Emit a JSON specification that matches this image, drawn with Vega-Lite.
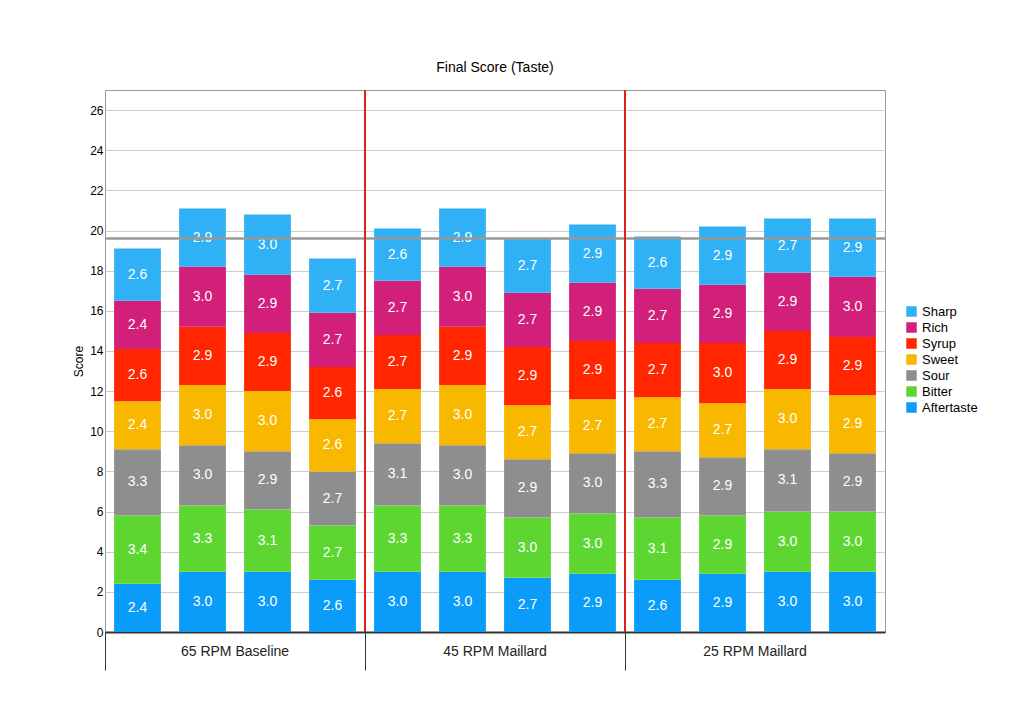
{
  "$schema": "https://vega.github.io/schema/vega-lite/v6.json",
  "autosize": "none",
  "width": 780,
  "height": 542,
  "padding": {"left": 105, "top": 90, "right": 139, "bottom": 91},
  "background": "white",
  "title": {"text": "Final Score (Taste)", "fontWeight": "normal", "fontSize": 14, "font": "Liberation Sans", "offset": 14},
  "config": {"font": "Liberation Sans", "view": {"stroke": "#999"}},
  "datasets": {
    "bars": [
      {"group": "65 RPM Baseline", "bar": 1, "Aftertaste": 2.4, "Bitter": 3.4, "Sour": 3.3, "Sweet": 2.4, "Syrup": 2.6, "Rich": 2.4, "Sharp": 2.6},
      {"group": "65 RPM Baseline", "bar": 2, "Aftertaste": 3.0, "Bitter": 3.3, "Sour": 3.0, "Sweet": 3.0, "Syrup": 2.9, "Rich": 3.0, "Sharp": 2.9},
      {"group": "65 RPM Baseline", "bar": 3, "Aftertaste": 3.0, "Bitter": 3.1, "Sour": 2.9, "Sweet": 3.0, "Syrup": 2.9, "Rich": 2.9, "Sharp": 3.0},
      {"group": "65 RPM Baseline", "bar": 4, "Aftertaste": 2.6, "Bitter": 2.7, "Sour": 2.7, "Sweet": 2.6, "Syrup": 2.6, "Rich": 2.7, "Sharp": 2.7},
      {"group": "45 RPM Maillard", "bar": 1, "Aftertaste": 3.0, "Bitter": 3.3, "Sour": 3.1, "Sweet": 2.7, "Syrup": 2.7, "Rich": 2.7, "Sharp": 2.6},
      {"group": "45 RPM Maillard", "bar": 2, "Aftertaste": 3.0, "Bitter": 3.3, "Sour": 3.0, "Sweet": 3.0, "Syrup": 2.9, "Rich": 3.0, "Sharp": 2.9},
      {"group": "45 RPM Maillard", "bar": 3, "Aftertaste": 2.7, "Bitter": 3.0, "Sour": 2.9, "Sweet": 2.7, "Syrup": 2.9, "Rich": 2.7, "Sharp": 2.7},
      {"group": "45 RPM Maillard", "bar": 4, "Aftertaste": 2.9, "Bitter": 3.0, "Sour": 3.0, "Sweet": 2.7, "Syrup": 2.9, "Rich": 2.9, "Sharp": 2.9},
      {"group": "25 RPM Maillard", "bar": 1, "Aftertaste": 2.6, "Bitter": 3.1, "Sour": 3.3, "Sweet": 2.7, "Syrup": 2.7, "Rich": 2.7, "Sharp": 2.6},
      {"group": "25 RPM Maillard", "bar": 2, "Aftertaste": 2.9, "Bitter": 2.9, "Sour": 2.9, "Sweet": 2.7, "Syrup": 3.0, "Rich": 2.9, "Sharp": 2.9},
      {"group": "25 RPM Maillard", "bar": 3, "Aftertaste": 3.0, "Bitter": 3.0, "Sour": 3.1, "Sweet": 3.0, "Syrup": 2.9, "Rich": 2.9, "Sharp": 2.7},
      {"group": "25 RPM Maillard", "bar": 4, "Aftertaste": 3.0, "Bitter": 3.0, "Sour": 2.9, "Sweet": 2.9, "Syrup": 2.9, "Rich": 3.0, "Sharp": 2.9}
    ],
    "refline": [{"score": 19.6}],
    "dividers": [{"group": "45 RPM Maillard"}, {"group": "25 RPM Maillard"}]
  },
  "layer": [
    {
      "data": {"name": "bars"},
      "transform": [
        {"fold": ["Aftertaste", "Bitter", "Sour", "Sweet", "Syrup", "Rich", "Sharp"], "as": ["attr", "value"]},
        {"calculate": "indexof(['Aftertaste','Bitter','Sour','Sweet','Syrup','Rich','Sharp'], datum.attr)", "as": "ord"},
        {"stack": "value", "groupby": ["group", "bar"], "sort": [{"field": "ord"}], "as": ["y0", "y1"]},
        {"calculate": "(datum.y0 + datum.y1) / 2", "as": "mid"}
      ],
      "encoding": {
        "x": {
          "field": "group", "type": "nominal",
          "sort": ["65 RPM Baseline", "45 RPM Maillard", "25 RPM Maillard"],
          "scale": {"paddingInner": 0, "paddingOuter": 0},
          "axis": {"title": null, "labelAngle": 0, "labelFontSize": 14, "labelColor": "#222", "labelPadding": -26, "tickSize": 38, "tickColor": "#333", "domainColor": "#333", "domainWidth": 2, "bandPosition": 0}
        },
        "xOffset": {"field": "bar", "type": "ordinal", "scale": {"paddingInner": 0.28, "paddingOuter": 0.14}}
      },
      "layer": [
        {
          "mark": {"type": "bar"},
          "encoding": {
            "y": {"field": "y0", "type": "quantitative", "scale": {"domain": [0, 27], "nice": false},
              "axis": {"title": "Score", "values": [0,1,2,3,4,5,6,7,8,9,10,11,12,13,14,15,16,17,18,19,20,21,22,23,24,25,26,27], "labelOverlap": false, "gridColor": "#ccc", "labelFontSize": 12, "titleFontWeight": "normal", "titleFontSize": 12, "ticks": false, "domain": false}},
            "y2": {"field": "y1"},
            "color": {
              "field": "attr", "type": "nominal",
              "scale": {
                "domain": ["Sharp", "Rich", "Syrup", "Sweet", "Sour", "Bitter", "Aftertaste"],
                "range": ["#30b0f5", "#d21f79", "#ff2600", "#f8b800", "#8e8e8e", "#5ed632", "#0a9cf8"]
              },
              "legend": {"title": null, "orient": "none", "legendX": 800, "legendY": 215, "symbolType": "square", "symbolSize": 110, "labelFontSize": 13, "rowPadding": 2}
            },
            "order": {"field": "ord"}
          }
        },
        {
          "mark": {"type": "text", "color": "white", "fontSize": 14},
          "encoding": {
            "y": {"field": "mid", "type": "quantitative"},
            "text": {"field": "value", "type": "quantitative", "format": ".1f"}
          }
        }
      ]
    },
    {
      "data": {"name": "refline"},
      "mark": {"type": "rule", "color": "#999", "strokeWidth": 2.5},
      "encoding": {"y": {"field": "score", "type": "quantitative"}}
    },
    {
      "data": {"name": "dividers"},
      "mark": {"type": "rule", "color": "#e0201b", "strokeWidth": 2},
      "encoding": {
        "x": {"field": "group", "type": "nominal", "sort": ["65 RPM Baseline", "45 RPM Maillard", "25 RPM Maillard"], "bandPosition": 0}
      }
    }
  ]
}
